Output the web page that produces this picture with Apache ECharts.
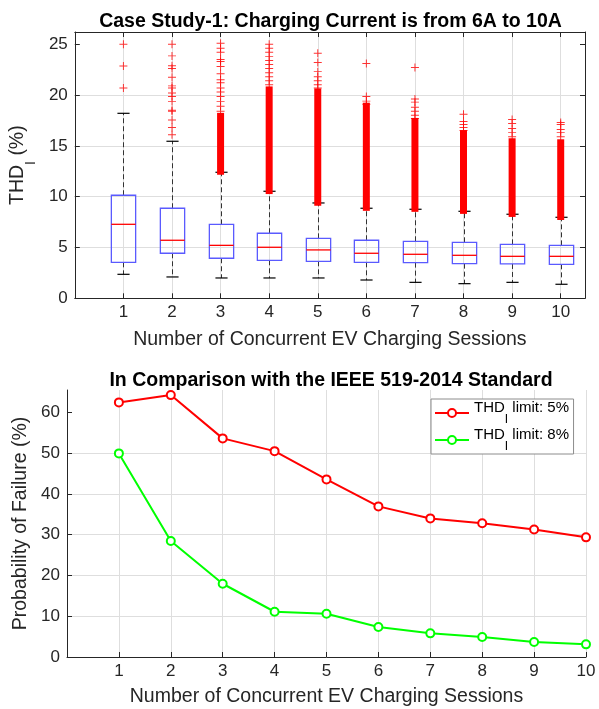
<!DOCTYPE html>
<html><head><meta charset="utf-8">
<script src="https://cdn.jsdelivr.net/npm/echarts@6/dist/echarts.min.js"></script>
<style>html,body{margin:0;padding:0;background:#fff}#c{width:599px;height:709px}</style>
</head><body><div id="c"></div>
<script>
// ---------- data ----------
const sessions = [1, 2, 3, 4, 5, 6, 7, 8, 9, 10];
const lowerWhisker = [2.36, 2.1, 2.0, 2.0, 2.0, 1.8, 1.57, 1.44, 1.57, 1.38];
const q1 = [3.54, 4.43, 3.94, 3.74, 3.64, 3.54, 3.51, 3.41, 3.38, 3.34];
const median = [7.28, 5.71, 5.21, 5.02, 4.76, 4.43, 4.33, 4.23, 4.13, 4.13];
const q3 = [10.14, 8.86, 7.28, 6.4, 5.9, 5.71, 5.61, 5.51, 5.31, 5.21];
const upperWhisker = [18.2, 15.45, 12.4, 10.53, 9.38, 8.86, 8.76, 8.56, 8.27, 7.97];
// ranges where the outlier '+' markers overlap into a solid column
const denseOutlierLow = [null, null, 12.5, 10.6, 9.45, 8.95, 8.85, 8.65, 8.35, 8.05];
const denseOutlierHigh = [null, null, 17.9, 20.5, 20.3, 18.9, 17.4, 16.2, 15.4, 15.3];
const sparseOutliers = [
  [25.0, 22.85, 20.7],
  [25.0, 23.85, 22.87, 22.6, 21.75, 20.9, 20.7, 20.2, 19.85, 19.35, 18.5, 18.4, 17.55, 16.8, 16.1],
  [25.1, 24.6, 24.2, 23.5, 23.3, 22.8, 22.1, 21.5, 21.2, 20.7, 20.3, 19.85, 19.35, 18.9, 18.4],
  [25.0, 24.6, 24.2, 23.8, 23.4, 23.0, 22.6, 22.2, 21.8, 21.4, 21.0],
  [24.1, 23.2, 22.3, 21.8, 21.4, 21.0, 20.7],
  [23.1, 19.85, 19.4, 19.1],
  [22.7, 19.6, 19.3, 18.8, 18.4, 18.0, 17.7],
  [18.1, 17.4, 17.1, 16.8, 16.5],
  [17.6, 17.2, 16.7, 16.3, 15.9],
  [17.3, 17.1, 16.6, 16.3, 15.9]
];
const failure5 = [62.46, 64.25, 53.63, 50.5, 43.57, 36.95, 34.0, 32.8, 31.3, 29.35];
const failure8 = [49.95, 28.45, 17.97, 11.1, 10.6, 7.36, 5.8, 4.9, 3.68, 3.1];
const limits = ['5%', '8%'];
const yTicksTop = [0, 5, 10, 15, 20, 25];
const yTicksBottom = [0, 10, 20, 30, 40, 50, 60];

// ---------- styles ----------
const FONT = '"Liberation Sans", Arial, Helvetica, sans-serif';
const AX = '#262626';
const GRIDC = '#dedede';
const TICKF = 17;
const NAMEF = 19.5;

const boxData = sessions.map((s, i) => [s, lowerWhisker[i], q1[i], median[i], q3[i], upperWhisker[i]]);
const denseData = sessions.map((s, i) => [s, denseOutlierLow[i], denseOutlierHigh[i]]).filter(d => d[1] != null);
const outlierData = [];
sessions.forEach((s, i) => sparseOutliers[i].forEach(v => outlierData.push([s, v])));

function renderBox(params, api) {
  const x = api.value(0);
  const pLW = api.coord([x, api.value(1)]);
  const pQ1 = api.coord([x, api.value(2)]);
  const pMed = api.coord([x, api.value(3)]);
  const pQ3 = api.coord([x, api.value(4)]);
  const pUW = api.coord([x, api.value(5)]);
  const bw = api.size([0.5, 0])[0];
  const cw = bw / 2;
  const cx = Math.round(pMed[0]) + 0.5;
  const dash = { stroke: '#333', lineWidth: 1, lineDash: [5, 3] };
  const cap = { stroke: '#000', lineWidth: 1.2 };
  return {
    type: 'group',
    children: [
      { type: 'line', shape: { x1: cx, y1: pQ3[1], x2: cx, y2: pUW[1] }, style: dash },
      { type: 'line', shape: { x1: cx, y1: pQ1[1], x2: cx, y2: pLW[1] }, style: dash },
      { type: 'line', shape: { x1: cx - cw / 2, y1: pUW[1], x2: cx + cw / 2, y2: pUW[1] }, style: cap },
      { type: 'line', shape: { x1: cx - cw / 2, y1: pLW[1], x2: cx + cw / 2, y2: pLW[1] }, style: cap },
      { type: 'rect', shape: { x: cx - bw / 2, y: pQ3[1], width: bw, height: pQ1[1] - pQ3[1] },
        style: { fill: 'none', stroke: '#5a5aff', lineWidth: 1.3 } },
      { type: 'line', shape: { x1: cx - bw / 2, y1: pMed[1], x2: cx + bw / 2, y2: pMed[1] },
        style: { stroke: '#ff0000', lineWidth: 1.3 } }
    ]
  };
}

function renderDense(params, api) {
  const x = api.value(0);
  const pLo = api.coord([x, api.value(1)]);
  const pHi = api.coord([x, api.value(2)]);
  const w = 7;
  return {
    type: 'rect',
    shape: { x: pLo[0] - w / 2, y: pHi[1] - 3.5, width: w, height: pLo[1] - pHi[1] + 7 },
    style: { fill: '#ff0000' }
  };
}

const plusPath = 'path://M0,4.4H10V5.6H0Z M4.4,0H5.6V10H4.4Z';
const legendFormatter = name => {
  const idx = name.indexOf('5%') >= 0 ? 0 : 1;
  return '{a|THD}{s|I}{a| limit: ' + limits[idx] + '}{z| }';
};

const option = {
  animation: false,
  backgroundColor: '#fff',
  textStyle: { fontFamily: FONT },
  title: [
    { text: 'Case Study-1: Charging Current is from 6A to 10A', left: 325.5, top: 7, textAlign: 'center',
      textStyle: { fontFamily: FONT, fontSize: NAMEF, fontWeight: 'bold', color: '#000' } },
    { text: 'In Comparison with the IEEE 519-2014 Standard', left: 326, top: 366, textAlign: 'center',
      textStyle: { fontFamily: FONT, fontSize: NAMEF, fontWeight: 'bold', color: '#000' } }
  ],
  grid: [
    { left: 66, right: 14, top: 32, bottom: 410.7, containLabel: false },
    { left: 67, right: 13, top: 390, bottom: 52, containLabel: false }
  ],
  legend: {
    left: 431, top: 399, orient: 'vertical',
    data: ['THD_I limit: 5%', 'THD_I limit: 8%'],
    itemWidth: 34, itemHeight: 10, itemGap: 1,
    padding: [1, 4, 1, 3],
    backgroundColor: '#fff', borderColor: '#8c8c8c', borderWidth: 1, borderRadius: 0,
    formatter: legendFormatter,
    textStyle: {
      fontFamily: FONT, fontSize: 15, color: '#000',
      rich: {
        a: { fontFamily: FONT, fontSize: 15, color: '#000', lineHeight: 20, verticalAlign: 'top' },
        s: { fontFamily: FONT, fontSize: 12, color: '#000', lineHeight: 13, verticalAlign: 'bottom' },
        z: { fontFamily: FONT, fontSize: 2, lineHeight: 26 }
      }
    }
  },
  xAxis: [
    { gridIndex: 0, type: 'value', min: 0, max: 10.5, interval: 1, position: 'bottom',
      name: 'Number of Concurrent EV Charging Sessions', nameLocation: 'middle', nameGap: 31,
      nameTextStyle: { fontFamily: FONT, fontSize: NAMEF, color: AX },
      axisLine: { onZero: false, lineStyle: { color: AX, width: 1 } },
      axisTick: { inside: true, length: 5, customValues: sessions, lineStyle: { color: AX } },
      axisLabel: { customValues: sessions, fontFamily: FONT, fontSize: TICKF, color: AX, margin: 6 },
      splitLine: { show: true, lineStyle: { color: GRIDC, width: 1 } } },
    { gridIndex: 0, type: 'value', min: 0, max: 10.5, interval: 1, position: 'top',
      axisLine: { onZero: false, lineStyle: { color: AX, width: 1 } },
      axisTick: { inside: true, length: 5, customValues: sessions, lineStyle: { color: AX } },
      axisLabel: { show: false }, splitLine: { show: false } },
    { gridIndex: 1, type: 'value', min: 0, max: 10, interval: 1, position: 'bottom',
      name: 'Number of Concurrent EV Charging Sessions', nameLocation: 'middle', nameGap: 30,
      nameTextStyle: { fontFamily: FONT, fontSize: NAMEF, color: AX },
      axisLine: { onZero: false, lineStyle: { color: AX, width: 1 } },
      axisTick: { inside: true, length: 5, customValues: sessions, lineStyle: { color: AX } },
      axisLabel: { customValues: sessions, fontFamily: FONT, fontSize: TICKF, color: AX, margin: 6 },
      splitLine: { show: true, lineStyle: { color: GRIDC, width: 1 } } }
  ],
  yAxis: [
    { gridIndex: 0, type: 'value', min: 0, max: 26.2, interval: 5, position: 'left',
      name: '{a|THD}{s|I}{a| (%)}', nameLocation: 'middle', nameGap: 29,
      nameTextStyle: {
        fontFamily: FONT, fontSize: NAMEF, color: AX,
        rich: {
          a: { fontFamily: FONT, fontSize: NAMEF, color: AX, lineHeight: 40 },
          s: { fontFamily: FONT, fontSize: 14, color: AX, lineHeight: 14, verticalAlign: 'bottom' }
        }
      },
      axisLine: { onZero: false, lineStyle: { color: AX, width: 1 } },
      axisTick: { inside: true, length: 5, customValues: yTicksTop, lineStyle: { color: AX } },
      axisLabel: { customValues: yTicksTop, fontFamily: FONT, fontSize: TICKF, color: AX, margin: 7 },
      splitLine: { show: true, showMaxLine: false, lineStyle: { color: GRIDC, width: 1 } } },
    { gridIndex: 0, type: 'value', min: 0, max: 26.2, interval: 5, position: 'right',
      axisLine: { onZero: false, lineStyle: { color: AX, width: 1 } },
      axisTick: { inside: true, length: 5, customValues: yTicksTop, lineStyle: { color: AX } },
      axisLabel: { show: false }, splitLine: { show: false } },
    { gridIndex: 1, type: 'value', min: 0, max: 65.5, interval: 10, position: 'left',
      name: 'Probability of Failure (%)', nameLocation: 'middle', nameGap: 30,
      nameTextStyle: { fontFamily: FONT, fontSize: NAMEF, color: AX },
      axisLine: { onZero: false, lineStyle: { color: AX, width: 1 } },
      axisTick: { inside: true, length: 5, customValues: yTicksBottom, lineStyle: { color: AX } },
      axisLabel: { customValues: yTicksBottom, fontFamily: FONT, fontSize: TICKF, color: AX, margin: 7 },
      splitLine: { show: true, showMaxLine: false, lineStyle: { color: GRIDC, width: 1 } } }
  ],
  series: [
    { type: 'custom', name: 'box', xAxisIndex: 0, yAxisIndex: 0, renderItem: renderBox,
      data: boxData, encode: { x: 0, y: [1, 5] }, z: 3, silent: true },
    { type: 'custom', name: 'denseOutliers', xAxisIndex: 0, yAxisIndex: 0, renderItem: renderDense,
      data: denseData, encode: { x: 0, y: [1, 2] }, z: 4, silent: true },
    { type: 'scatter', name: 'outliers', xAxisIndex: 0, yAxisIndex: 0, data: outlierData,
      symbol: plusPath, symbolSize: 8, itemStyle: { color: '#ff0000' }, z: 5, silent: true },
    { type: 'line', name: 'THD_I limit: 5%', xAxisIndex: 2, yAxisIndex: 2,
      data: sessions.map((s, i) => [s, failure5[i]]),
      symbol: 'emptyCircle', symbolSize: 8, showAllSymbol: true,
      lineStyle: { color: '#ff0000', width: 2 },
      itemStyle: { color: '#ff0000', borderColor: '#ff0000', borderWidth: 2 }, z: 3 },
    { type: 'line', name: 'THD_I limit: 8%', xAxisIndex: 2, yAxisIndex: 2,
      data: sessions.map((s, i) => [s, failure8[i]]),
      symbol: 'emptyCircle', symbolSize: 8, showAllSymbol: true,
      lineStyle: { color: '#00ff00', width: 2 },
      itemStyle: { color: '#00ff00', borderColor: '#00ff00', borderWidth: 2 }, z: 3 }
  ]
};

const chart = echarts.init(document.getElementById('c'), null, { renderer: 'canvas' });
chart.setOption(option);
</script>
</body></html>
